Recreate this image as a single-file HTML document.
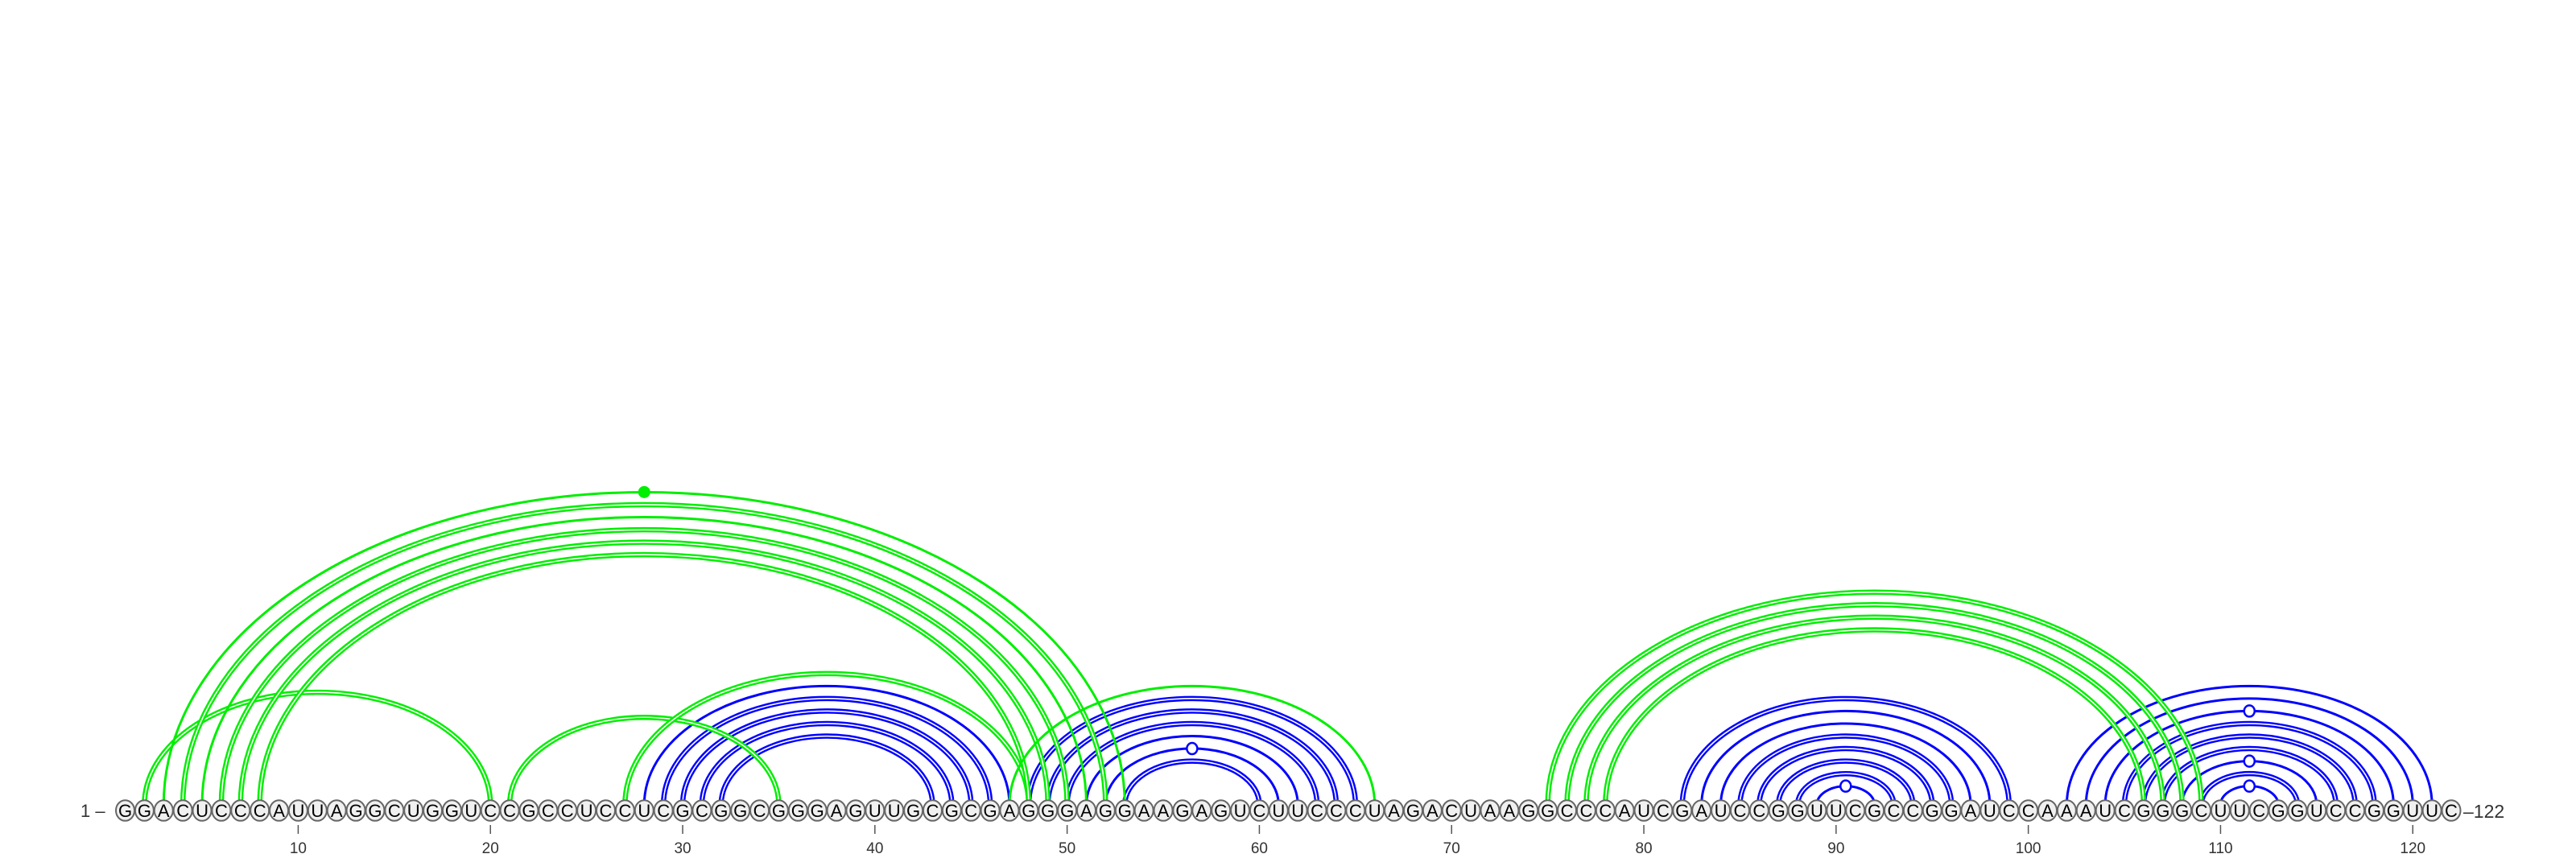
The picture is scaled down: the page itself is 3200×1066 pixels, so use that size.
<!DOCTYPE html>
<html><head><meta charset="utf-8"><style>
html,body{margin:0;padding:0;background:#fff;}
svg{display:block;}
text{font-family:"Liberation Sans",sans-serif;}
</style></head><body>
<svg id="chart" width="3200" height="1066" viewBox="0 0 3200 1066" xmlns="http://www.w3.org/2000/svg">
<rect width="3200" height="1066" fill="#fff"/>
<g id="blue"></g>
<g id="green"></g>
<g id="nts"></g>
<g id="ticks"></g>
<text x="100" y="1015" font-size="22" fill="#333">1 –</text>
<text x="3060" y="1016" font-size="23" fill="#333">–122</text>
</svg>
<script>
const sequence = "GGACUCCCAUUAGGCUGGUCCGCCUCCUCGCGGCGGGAGUUGCGCGAGGGAGGAAGAGUCUUCCCUAGACUAAGGCCCAUCGAUCCGGUUCGCCGGAUCCAAAUCGGGCUUCGGUCCGGUUC";
// blue pairs: [i, j, double(1)/single(0), marker(1/0)]
const bluePairs = [
 [28,47,0,0],[29,46,1,0],[30,45,1,0],[31,44,1,0],[32,43,1,0],
 [48,65,1,0],[49,64,1,0],[50,63,1,0],[51,62,0,0],[52,61,0,1],[53,60,1,0],
 [82,99,1,0],[83,98,0,0],[84,97,0,0],[85,96,1,0],[86,95,1,0],[87,94,1,0],[88,93,1,0],[89,92,0,1],
 [102,121,0,0],[103,120,0,0],[104,119,0,1],[105,118,1,0],[106,117,1,0],[107,116,1,0],[108,115,0,1],[109,114,1,0],[110,113,0,1]
];
const greenPairs = [
 [2,20,1,0],[21,35,1,0],[27,48,1,0],[3,53,0,2],[4,52,1,0],[5,51,0,0],[6,50,1,0],[7,49,1,0],[8,48,1,0],
 [47,66,0,0],[75,109,1,0],[76,108,1,0],[77,107,1,0],[78,106,1,0]
];
const tickPositions = [10,20,30,40,50,60,70,80,90,100,110,120];

const NS="http://www.w3.org/2000/svg";
const X0=155.5, STEP=(3045-155.5)/121, BASE=1000, RATIO=0.651, NY=1007;
function xs(i){return X0+(i-1)*STEP;}
function mk(tag,attrs,parent){const e=document.createElementNS(NS,tag);for(const k in attrs)e.setAttribute(k,attrs[k]);parent.appendChild(e);return e;}

function drawArcs(pairs,color,gid){
  const g=document.getElementById(gid);
  pairs.forEach(p=>{
    const x1=xs(p[0]),x2=xs(p[1]),rx=(x2-x1)/2,ry=rx*RATIO;
    const d=`M${x1},${BASE} A${rx},${ry} 0 0 1 ${x2},${BASE}`;
    if(p[2]){
      const a=mk('path',{d:d,fill:'none',stroke:color,'stroke-width':6.5},g);
      
      
      const w=mk('path',{d:d,fill:'none',stroke:'#fff','stroke-width':1.6},g);
      
      
    } else {
      const a=mk('path',{d:d,fill:'none',stroke:color,'stroke-width':3},g);
      
      
    }
    if(p[3]===1){
      const c=mk('ellipse',{cx:(x1+x2)/2,cy:BASE-ry,rx:6.5,ry:7,fill:'#fff',stroke:color,'stroke-width':2.5},g);
      
      
    } else if(p[3]===2){
      const c=mk('circle',{cx:(x1+x2)/2,cy:BASE-ry,r:7.5,fill:color},g);
      
      
    }
  });
}
drawArcs(bluePairs,'#0000ff','blue');
drawArcs(greenPairs,'#00ee00','green');

const ng=document.getElementById('nts');
for(let i=0;i<sequence.length;i++){
  const x=xs(i+1);
  const e=mk('ellipse',{cx:x,cy:NY,rx:11.5,ry:12.8,fill:'#f0f0f0',stroke:'#666','stroke-width':2},ng);
  
  
  const t=mk('text',{x:x,y:NY+8,'font-size':22,'text-anchor':'middle',fill:'#000'},ng);
  
  
  t.textContent=sequence[i];
}
const tg=document.getElementById('ticks');
tickPositions.forEach(p=>{
  const x=xs(p);
  const l=mk('line',{x1:x,x2:x,y1:1025,y2:1036,stroke:'#555','stroke-width':1.5},tg);
  
  
  const t=mk('text',{x:x,y:1060,'font-size':19,'text-anchor':'middle',fill:'#333'},tg);
  
  
  t.textContent=p;
});
</script>
</body></html>
